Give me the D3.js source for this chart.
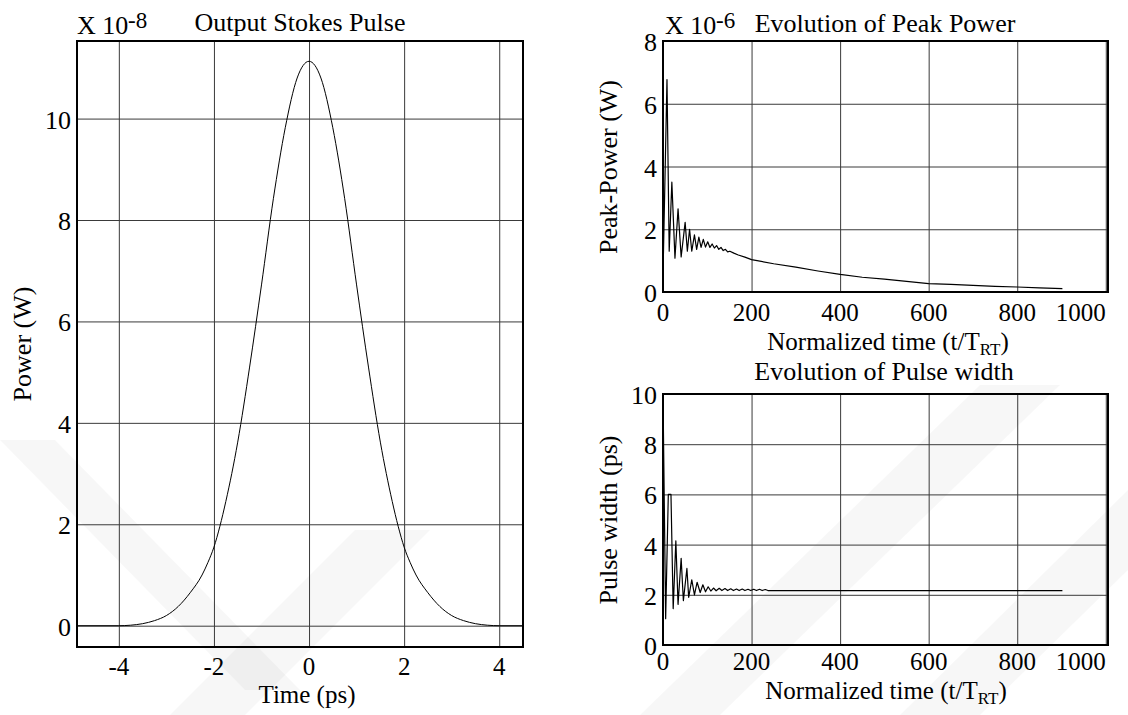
<!DOCTYPE html>
<html>
<head>
<meta charset="utf-8">
<script src="https://cdn.jsdelivr.net/npm/d3@7/dist/d3.min.js"></script>
<style>
body { margin: 0; background: #fff; }
svg text { font-family: "Liberation Serif", "Times New Roman", serif; fill: #000; }
</style>
</head>
<body>
<div class="ex__stokes"></div>
<script>
// output pulse (power in 1e-8 W) vs time (ps)
var pulseTime  = [-4.88, -4, -3.75, -3.5, -3.25, -3, -2.75, -2.5, -2.25, -2.125, -2, -1.875, -1.75, -1.5, -1.25, -1, -0.75, -0.5, -0.25, 0,
                  0.25, 0.5, 0.75, 1, 1.25, 1.5, 1.75, 1.875, 2, 2.125, 2.25, 2.5, 2.75, 3, 3.25, 3.5, 3.75, 4, 4.5];
var pulsePower = [0, 0, 0.01, 0.04, 0.1, 0.2, 0.38, 0.65, 1.0, 1.25, 1.55, 1.96, 2.45, 3.62, 5.1, 6.72, 8.42, 9.82, 10.8, 11.13,
                  10.8, 9.82, 8.42, 6.72, 5.1, 3.62, 2.45, 1.96, 1.55, 1.25, 1.0, 0.65, 0.38, 0.2, 0.1, 0.04, 0.01, 0, 0];

// peak power (1e-6 W) vs round trips
var peakTime  = [1, 9, 14, 20, 27, 34, 41, 50, 55, 60, 65, 71, 76, 81, 86, 91, 96, 101, 106, 111, 116, 121, 126, 131, 136,
                 141, 146, 151, 160, 170, 185, 200, 250, 300, 350, 400, 450, 500, 550, 600, 650, 700, 750, 800, 850, 902];
var peakPower = [1.22, 6.77, 1.3, 3.5, 1.08, 2.65, 1.12, 2.22, 1.3, 2.0, 1.3, 1.82, 1.36, 1.75, 1.42, 1.68, 1.43, 1.6, 1.42, 1.53,
                 1.4, 1.48, 1.36, 1.42, 1.32, 1.36, 1.28, 1.3, 1.24, 1.18, 1.11, 1.03, 0.9, 0.79, 0.67, 0.56, 0.47, 0.41, 0.34,
                 0.27, 0.24, 0.21, 0.18, 0.16, 0.13, 0.11];

// pulse width (ps) vs round trips
var widthTime = [0, 6, 12, 18, 23, 29, 34, 41, 46, 54, 58, 65, 71, 77, 84, 90, 96, 102, 108, 114, 120, 127, 133, 140, 146,
                 153, 159, 166, 172, 179, 185, 192, 198, 205, 211, 218, 224, 231, 237, 902];
var widthPs   = [10, 1.05, 6.0, 6.0, 1.45, 4.15, 1.62, 3.45, 1.77, 3.05, 1.9, 2.6, 2.0, 2.5, 2.09, 2.4, 2.12, 2.32, 2.15, 2.27,
                 2.16, 2.26, 2.17, 2.25, 2.17, 2.24, 2.17, 2.23, 2.17, 2.23, 2.17, 2.22, 2.17, 2.22, 2.17, 2.22, 2.17, 2.21, 2.17, 2.17];

var pulseTicksX = [-4, -2, 0, 2, 4];
var pulseTicksY = [0, 2, 4, 6, 8, 10];
var evoTicksX   = [0, 200, 400, 600, 800, 1000];
var peakTicksY  = [0, 2, 4, 6, 8];
var widthTicksY = [0, 2, 4, 6, 8, 10];

var svg = d3.select(".ex__stokes").append("svg")
    .attr("width", 1128)
    .attr("height", 715);

// faint watermark bands in the background
var marks = [
  [[0,440],[55,440],[300,690],[245,690]],
  [[170,715],[245,715],[430,530],[355,530]],
  [[640,715],[720,715],[1060,385],[980,385]],
  [[900,715],[980,715],[1128,570],[1128,490]]
];
svg.append("g").selectAll("polygon").data(marks).enter().append("polygon")
    .attr("points", function(d){ return d.map(function(p){return p.join(",");}).join(" "); })
    .attr("fill", "#000").attr("opacity", 0.03);

function panel(o) {
  var w = o.x1 - o.x0, h = o.y1 - o.y0;
  var x = d3.scaleLinear().domain(o.xDom).range([0, w]);
  var y = d3.scaleLinear().domain(o.yDom).range([h, 0]);
  var g = svg.append("g").attr("transform", "translate(" + o.x0 + "," + o.y0 + ")");

  g.append("g").attr("class", "grid")
      .call(d3.axisBottom(x).tickValues(o.xTicks).tickSize(-h).tickFormat(""))
      .attr("transform", "translate(0," + h + ")");
  g.append("g").attr("class", "grid")
      .call(d3.axisLeft(y).tickValues(o.yTicks).tickSize(-w).tickFormat(""));
  g.selectAll(".grid .domain").remove();
  g.selectAll(".grid line").attr("stroke", "#3a3a3a").attr("stroke-width", 1);

  var line = d3.line()
      .x(function(d){ return x(d[0]); })
      .y(function(d){ return y(d[1]); })
      .curve(o.curve || d3.curveLinear);
  g.append("path")
      .datum(d3.zip(o.xs, o.ys))
      .attr("fill", "none")
      .attr("stroke", "#000")
      .attr("stroke-width", o.lw || 1.1)
      .attr("stroke-linejoin", "round")
      .attr("d", line);

  g.append("rect").attr("width", w).attr("height", h)
      .attr("fill", "none").attr("stroke", "#000").attr("stroke-width", 2);

  // tick labels
  g.selectAll(".yl").data(o.yTicks).enter().append("text")
      .attr("x", -6).attr("y", function(d){ return y(d) + 10; })
      .attr("text-anchor", "end").style("font-size", "26px")
      .text(function(d){ return d; });
  g.selectAll(".xl").data(o.xTicks).enter().append("text")
      .attr("x", function(d){ return Math.min(x(d), w - 2); })
      .attr("y", h + o.xTickDy)
      .attr("text-anchor", function(d){ return x(d) > w - 20 ? "end" : "middle"; })
      .style("font-size", "25px")
      .text(function(d){ return d; });
  return {g: g, w: w, h: h};
}

function yLabel(tx, cy, txt) {
  svg.append("text")
      .attr("transform", "translate(" + tx + "," + cy + ") rotate(-90)")
      .attr("text-anchor", "middle").style("font-size", "26px")
      .text(txt);
}
function expo(x0, yb, p) {
  svg.append("text").attr("x", x0).attr("y", yb).style("font-size", "26px").text("X 10");
  svg.append("text").attr("x", x0 + 51).attr("y", yb - 6).style("font-size", "23px").text(p);
}
function normLabel(cx, yb) {
  var t = svg.append("text").attr("x", cx).attr("y", yb)
      .attr("text-anchor", "middle").style("font-size", "25px");
  t.append("tspan").text("Normalized time (t/T");
  t.append("tspan").attr("dy", 5).style("font-size", "17px").text("RT");
  t.append("tspan").attr("dy", -5).text(")");
}

// left: output pulse
panel({x0: 77, x1: 523, y0: 41, y1: 647, xDom: [-4.88, 4.5], yDom: [-0.42, 11.53],
       xTicks: pulseTicksX, yTicks: pulseTicksY, xs: pulseTime, ys: pulsePower,
       curve: d3.curveMonotoneX, xTickDy: 28, lw: 1});
expo(77, 34, "-8");
svg.append("text").attr("x", 300).attr("y", 31).attr("text-anchor", "middle")
    .style("font-size", "26px").text("Output Stokes Pulse");
yLabel(31, 344, "Power (W)");
svg.append("text").attr("x", 307).attr("y", 703).attr("text-anchor", "middle")
    .style("font-size", "25px").text("Time (ps)");

// right top: peak power
panel({x0: 663, x1: 1108, y0: 41, y1: 292, xDom: [0, 1005], yDom: [0, 8],
       xTicks: evoTicksX, yTicks: peakTicksY, xs: peakTime, ys: peakPower,
       xTickDy: 29, lw: 1.2});
expo(665, 34, "-6");
svg.append("text").attr("x", 885).attr("y", 32).attr("text-anchor", "middle")
    .style("font-size", "26px").text("Evolution of Peak Power");
yLabel(617, 167, "Peak-Power (W)");
normLabel(888, 350);

// right bottom: pulse width
panel({x0: 663, x1: 1108, y0: 394, y1: 645, xDom: [0, 1005], yDom: [0, 10],
       xTicks: evoTicksX, yTicks: widthTicksY, xs: widthTime, ys: widthPs,
       xTickDy: 25, lw: 1.2});
svg.append("text").attr("x", 884).attr("y", 380).attr("text-anchor", "middle")
    .style("font-size", "26px").text("Evolution of Pulse width");
yLabel(617, 520, "Pulse width (ps)");
normLabel(886, 699);
</script>
</body>
</html>
